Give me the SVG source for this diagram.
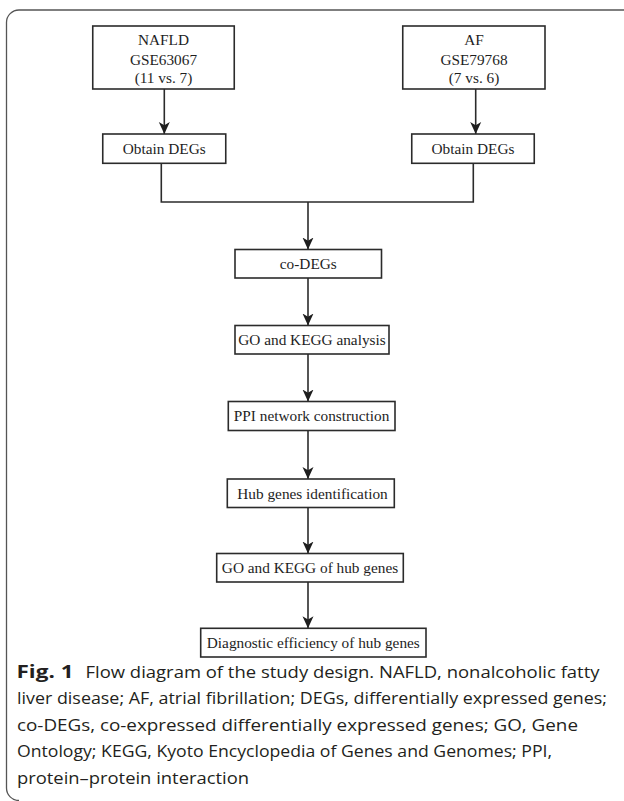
<svg xmlns="http://www.w3.org/2000/svg" width="624" height="801" viewBox="0 0 624 801">
<style>
.box{fill:#fff;stroke:#2b2b2b;stroke-width:1.6}
.lbl{font-family:"Liberation Serif","Times New Roman",serif;font-size:15.3px;fill:#1e1e1e;text-anchor:middle}
.con{fill:none;stroke:#2b2b2b;stroke-width:1.6}
.cap{font-family:"Open Sans","Noto Sans",sans-serif;font-size:17px;fill:#231f20}
.frame{fill:none;stroke:#555;stroke-width:1.3}
</style>
<defs>
<marker id="ah" markerUnits="userSpaceOnUse" markerWidth="12" markerHeight="12" viewBox="0 0 12 12" refX="12" refY="6" orient="auto">
<path d="M0,0.5 L12,6 L0,11.5 L3.2,6 Z" fill="#1e1e1e"/>
</marker>
</defs>
<path class="frame" d="M624,10 H19 A12.5,12.5 0 0 0 6.5,22.5 V788 A12.5,12.5 0 0 0 19,800.5"/>
<g id="connectors">
<path class="con" d="M164.3,89 V134" marker-end="url(#ah)"/>
<path class="con" d="M475.7,89 V134" marker-end="url(#ah)"/>
<path class="con" d="M161.3,163.3 V202 H473.3 V163.3"/>
<path class="con" d="M308,202 V249.5" marker-end="url(#ah)"/>
<path class="con" d="M308,278 V325.5" marker-end="url(#ah)"/>
<path class="con" d="M308,354 V401.5" marker-end="url(#ah)"/>
<path class="con" d="M308,430.5 V479" marker-end="url(#ah)"/>
<path class="con" d="M308,507.5 V553.5" marker-end="url(#ah)"/>
<path class="con" d="M308,582 V628.3" marker-end="url(#ah)"/>
</g>
<g id="nafld">
<rect class="box" x="92.75" y="26" width="141.5" height="63"/>
<text class="lbl" x="163.5" y="45">NAFLD</text>
<text class="lbl" x="163.5" y="64.5">GSE63067</text>
<text class="lbl" x="163.5" y="82.5">(11 vs. 7)</text>
</g>
<g id="af">
<rect class="box" x="402.75" y="26" width="142.25" height="63"/>
<text class="lbl" x="474" y="45">AF</text>
<text class="lbl" x="474" y="64.5">GSE79768</text>
<text class="lbl" x="474" y="82.5">(7 vs. 6)</text>
</g>
<g id="obtain-degs-1">
<rect class="box" x="102.75" y="134" width="123" height="29.3"/>
<text class="lbl" x="164.25" y="153.5">Obtain DEGs</text>
</g>
<g id="obtain-degs-2">
<rect class="box" x="411.75" y="134" width="122.5" height="29.3"/>
<text class="lbl" x="473" y="153.5">Obtain DEGs</text>
</g>
<g id="co-degs">
<rect class="box" x="235" y="249.5" width="146.5" height="28.5"/>
<text class="lbl" x="308.3" y="269.3">co-DEGs</text>
</g>
<g id="go-kegg">
<rect class="box" x="235" y="325.5" width="154" height="28.5"/>
<text class="lbl" x="312" y="345.2">GO and KEGG analysis</text>
</g>
<g id="ppi">
<rect class="box" x="228.3" y="401.5" width="166.7" height="29"/>
<text class="lbl" x="311.6" y="421.2">PPI network construction</text>
</g>
<g id="hub">
<rect class="box" x="227.3" y="479" width="167" height="28.5"/>
<text class="lbl" x="312.5" y="498.5">Hub genes identification</text>
</g>
<g id="go-kegg-hub">
<rect class="box" x="216.7" y="553.5" width="186.6" height="28.5"/>
<text class="lbl" x="310" y="573">GO and KEGG of hub genes</text>
</g>
<g id="diagnostic">
<rect class="box" x="200.7" y="628.3" width="225.3" height="28.7"/>
<text class="lbl" x="313.3" y="647.8">Diagnostic efficiency of hub genes</text>
</g>
<g id="caption">
<text class="cap" x="16.5" y="677.5" font-weight="bold" font-size="18.5" textLength="57" lengthAdjust="spacingAndGlyphs">Fig. 1</text>
<text class="cap" x="85.5" y="677.5" textLength="514" lengthAdjust="spacingAndGlyphs">Flow diagram of the study design. NAFLD, nonalcoholic fatty</text>
<text class="cap" x="17" y="704" textLength="590" lengthAdjust="spacingAndGlyphs">liver disease; AF, atrial fibrillation; DEGs, differentially expressed genes;</text>
<text class="cap" x="17" y="730.5" textLength="561" lengthAdjust="spacingAndGlyphs">co-DEGs, co-expressed differentially expressed genes; GO, Gene</text>
<text class="cap" x="17" y="757" textLength="535" lengthAdjust="spacingAndGlyphs">Ontology; KEGG, Kyoto Encyclopedia of Genes and Genomes; PPI,</text>
<text class="cap" x="17" y="783.5" textLength="232" lengthAdjust="spacingAndGlyphs">protein–protein interaction</text>
</g>
</svg>
